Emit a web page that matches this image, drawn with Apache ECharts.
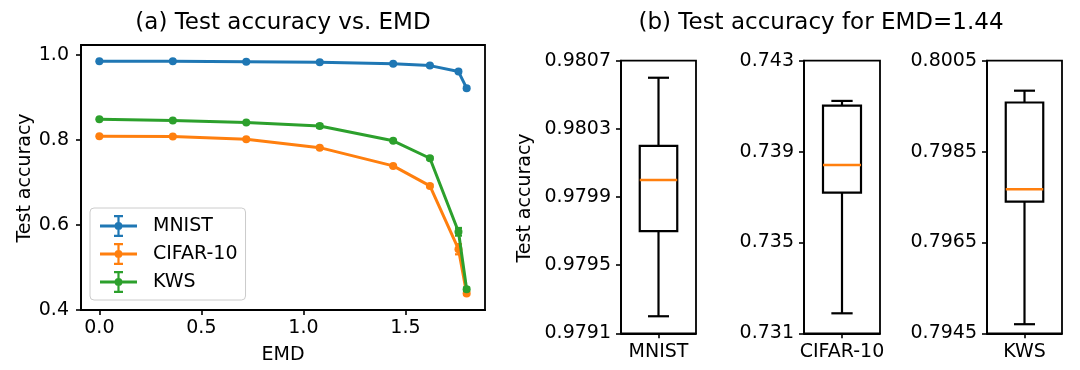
<!DOCTYPE html>
<html>
<head>
<meta charset="utf-8">
<script src="https://cdn.jsdelivr.net/npm/echarts@6/dist/echarts.min.js"></script>
<style>html,body{margin:0;padding:0;background:#fff}#c{width:1080px;height:370px}</style>
</head>
<body>
<div id="c"></div>
<script>
// ---- data ----
const emd = [0, 0.36, 0.72, 1.08, 1.44, 1.62, 1.76, 1.8];
const seriesNames = ['MNIST', 'CIFAR-10', 'KWS'];
const mnistAcc = [0.985, 0.985, 0.984, 0.983, 0.9795, 0.975, 0.961, 0.922];
const cifarAcc = [0.809, 0.808, 0.802, 0.782, 0.739, 0.692, 0.543, 0.439];
const kwsAcc   = [0.849, 0.846, 0.841, 0.833, 0.798, 0.757, 0.584, 0.449];
const mnistErr = [0.001, 0.001, 0.001, 0.001, 0.001, 0.002, 0.003, 0.003];
const cifarErr = [0.001, 0.001, 0.001, 0.002, 0.002, 0.003, 0.012, 0.003];
const kwsErr   = [0.001, 0.001, 0.001, 0.004, 0.002, 0.003, 0.009, 0.004];
const xTicks = [0, 0.5, 1.0, 1.5];
const yTicks = [0.4, 0.6, 0.8, 1.0];
// box plots at EMD = 1.44: [whiskerLow, Q1, median, Q3, whiskerHigh]
const boxMnist = [0.9792, 0.9797, 0.9800, 0.9802, 0.9806];
const boxCifar = [0.73188, 0.73719, 0.73841, 0.74102, 0.74123];
const boxKws   = [0.7947, 0.7974, 0.79767, 0.79958, 0.79984];
const mnistTicks = [0.9791, 0.9795, 0.9799, 0.9803, 0.9807];
const cifarTicks = [0.731, 0.735, 0.739, 0.743];
const kwsTicks   = [0.7945, 0.7965, 0.7985, 0.8005];

const colors = ['#1f77b4', '#ff7f0e', '#2ca02c'];
const FONT = 'DejaVu Sans';
const FS = 19;
const accs = [mnistAcc, cifarAcc, kwsAcc];
const errs = [mnistErr, cifarErr, kwsErr];

const legendIcon = 'path://M0 9.6H37V12.4H0Z M17.4 0H19.6V22H17.4Z M14 0H23V2.2H14Z M14 19.8H23V22H14Z M14.6 11A3.9 3.9 0 1 1 22.4 11A3.9 3.9 0 1 1 14.6 11Z';

function errRender(params, api) {
  const x = api.value(0), y = api.value(1), e = api.value(2);
  const top = api.coord([x, y + e]);
  const bot = api.coord([x, y - e]);
  const c = api.visual('color');
  const cw = 3.5;
  const st = { stroke: c, lineWidth: 2.2 };
  return { type: 'group', children: [
    { type: 'line', shape: { x1: top[0], y1: top[1], x2: bot[0], y2: bot[1] }, style: st },
    { type: 'line', shape: { x1: top[0] - cw, y1: top[1], x2: top[0] + cw, y2: top[1] }, style: st },
    { type: 'line', shape: { x1: bot[0] - cw, y1: bot[1], x2: bot[0] + cw, y2: bot[1] }, style: st }
  ]};
}

function boxRender(params, api) {
  const c = api.value(0);
  const lo = api.coord([c, api.value(1)]);
  const q1 = api.coord([c, api.value(2)]);
  const md = api.coord([c, api.value(3)]);
  const q3 = api.coord([c, api.value(4)]);
  const hi = api.coord([c, api.value(5)]);
  const bw = api.size([1, 0])[0];
  const cx = lo[0];
  const hw = bw * 0.25, cw = bw * 0.14;
  const st = { stroke: '#000', lineWidth: 2.2, fill: null };
  return { type: 'group', children: [
    { type: 'line', shape: { x1: cx, y1: q3[1], x2: cx, y2: hi[1] }, style: st },
    { type: 'line', shape: { x1: cx, y1: q1[1], x2: cx, y2: lo[1] }, style: st },
    { type: 'line', shape: { x1: cx - cw, y1: hi[1], x2: cx + cw, y2: hi[1] }, style: st },
    { type: 'line', shape: { x1: cx - cw, y1: lo[1], x2: cx + cw, y2: lo[1] }, style: st },
    { type: 'rect', shape: { x: cx - hw, y: q3[1], width: 2 * hw, height: q1[1] - q3[1] }, style: { stroke: '#000', lineWidth: 2.2, fill: 'none' } },
    { type: 'line', shape: { x1: cx - hw, y1: md[1], x2: cx + hw, y2: md[1] }, style: { stroke: '#ff7f0e', lineWidth: 2.4 } }
  ]};
}

const axisLineStyle = { show: true, onZero: false, lineStyle: { color: '#000', width: 1.8 } };
const tickStyle = { show: true, length: 5, lineStyle: { color: '#000', width: 1.6 } };
const labelStyle = { color: '#000', fontFamily: FONT, fontSize: FS };

const boxSets = [
  { name: seriesNames[0], data: boxMnist, ticks: mnistTicks, dec: 4, left: 621, width: 75 },
  { name: seriesNames[1], data: boxCifar, ticks: cifarTicks, dec: 3, left: 804, width: 76 },
  { name: seriesNames[2], data: boxKws,   ticks: kwsTicks,   dec: 4, left: 987, width: 75 }
];

const grids = [{ left: 81, top: 45, width: 404, height: 265, show: true, borderColor: '#000', borderWidth: 1.8 }];
const xAxes = [{
  type: 'value', gridIndex: 0, min: -0.09, max: 1.89,
  axisLine: axisLineStyle,
  axisTick: Object.assign({ customValues: xTicks }, tickStyle),
  axisLabel: Object.assign({ customValues: xTicks, margin: 9, formatter: v => v.toFixed(1) }, labelStyle),
  splitLine: { show: false }
}];
const yAxes = [{
  type: 'value', gridIndex: 0, min: 0.4, max: 1.0235,
  axisLine: axisLineStyle,
  axisTick: Object.assign({ customValues: yTicks }, tickStyle),
  axisLabel: Object.assign({ customValues: yTicks, margin: 12, formatter: v => v.toFixed(1) }, labelStyle),
  splitLine: { show: false }
}];
const series = [];

accs.forEach((acc, i) => {
  series.push({
    type: 'line', name: seriesNames[i], xAxisIndex: 0, yAxisIndex: 0,
    data: emd.map((x, k) => [x, acc[k]]),
    color: colors[i], symbol: 'circle', symbolSize: 8, showSymbol: true,
    lineStyle: { width: 3, color: colors[i] }, itemStyle: { color: colors[i] },
    z: 3 + i * 2, silent: true
  });
  series.push({
    type: 'custom', xAxisIndex: 0, yAxisIndex: 0, renderItem: errRender,
    data: emd.map((x, k) => [x, acc[k], errs[i][k]]),
    encode: { x: 0, y: 1 }, itemStyle: { color: colors[i] }, z: 3 + i * 2, silent: true
  });
});

boxSets.forEach((b, j) => {
  const gi = j + 1;
  grids.push({ left: b.left, top: 60.7, width: b.width, height: 272.6, show: true, borderColor: '#000', borderWidth: 1.8 });
  xAxes.push({
    type: 'category', gridIndex: gi, data: [b.name], boundaryGap: true,
    axisLine: axisLineStyle,
    axisTick: Object.assign({ alignWithLabel: true }, tickStyle),
    axisLabel: Object.assign({ margin: 9 }, labelStyle),
    splitLine: { show: false }
  });
  yAxes.push({
    type: 'value', gridIndex: gi, min: b.ticks[0], max: b.ticks[b.ticks.length - 1],
    axisLine: axisLineStyle,
    axisTick: Object.assign({ customValues: b.ticks }, tickStyle),
    axisLabel: Object.assign({ customValues: b.ticks, margin: 10, formatter: v => v.toFixed(b.dec) }, labelStyle),
    splitLine: { show: false }
  });
  series.push({
    type: 'custom', xAxisIndex: gi, yAxisIndex: gi, renderItem: boxRender,
    data: [[0].concat(b.data)], encode: { x: 0, y: [1, 2, 3, 4, 5] }, silent: true
  });
});

const chart = echarts.init(document.getElementById('c'), null, { renderer: 'canvas' });
chart.setOption({
  animation: false,
  backgroundColor: '#fff',
  textStyle: { fontFamily: FONT },
  grid: grids, xAxis: xAxes, yAxis: yAxes, series: series,
  legend: {
    data: seriesNames, orient: 'vertical', left: 90, top: 208,
    icon: legendIcon, itemWidth: 37, itemHeight: 22, itemGap: 6,
    padding: [7, 8, 7, 10],
    backgroundColor: 'rgba(255,255,255,0.8)', borderColor: '#cccccc', borderWidth: 1, borderRadius: 4,
    textStyle: { color: '#000', fontFamily: FONT, fontSize: FS, padding: [0, 0, 0, 11] },
    selectedMode: false
  },
  graphic: [
    { type: 'text', style: { text: '(a) Test accuracy vs. EMD', fontFamily: FONT, fontSize: 23, fill: '#000', textAlign: 'center', textVerticalAlign: 'middle' }, x: 283, y: 23, z: 10 },
    { type: 'text', style: { text: '(b) Test accuracy for EMD=1.44', fontFamily: FONT, fontSize: 23, fill: '#000', textAlign: 'center', textVerticalAlign: 'middle' }, x: 821, y: 23, z: 10 },
    { type: 'text', style: { text: 'EMD', fontFamily: FONT, fontSize: FS, fill: '#000', textAlign: 'center', textVerticalAlign: 'middle' }, x: 283, y: 355, z: 10 },
    { type: 'text', style: { text: 'Test accuracy', fontFamily: FONT, fontSize: FS, fill: '#000', textAlign: 'center', textVerticalAlign: 'middle' }, x: 25, y: 178, rotation: Math.PI / 2, z: 10 },
    { type: 'text', style: { text: 'Test accuracy', fontFamily: FONT, fontSize: FS, fill: '#000', textAlign: 'center', textVerticalAlign: 'middle' }, x: 525, y: 198, rotation: Math.PI / 2, z: 10 }
  ]
});
</script>
</body>
</html>
